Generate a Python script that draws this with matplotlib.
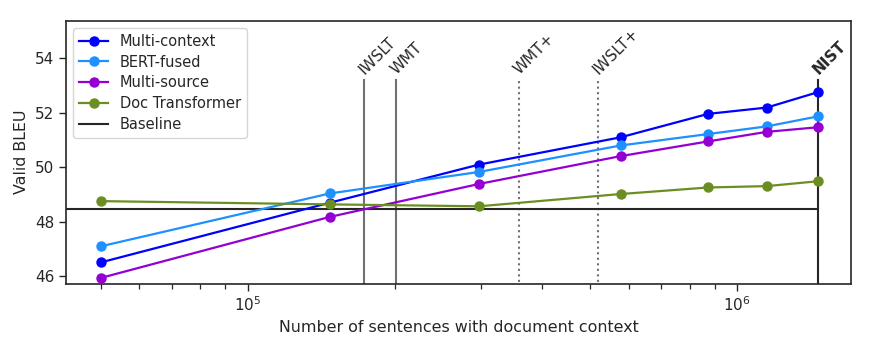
import matplotlib
matplotlib.use("Agg")
import matplotlib.pyplot as plt

# number of sentences with document context
sizes = [50000, 147000, 297000, 578000, 873000, 1150000, 1466000]

multi_context = [46.51, 48.70, 50.10, 51.10, 51.96, 52.19, 52.76]
bert_fused = [47.10, 49.04, 49.83, 50.80, 51.22, 51.50, 51.87]
multi_source = [45.94, 48.18, 49.39, 50.41, 50.95, 51.30, 51.47]
doc_transformer = [48.76, 48.64, 48.57, 49.02, 49.26, 49.31, 49.49]
baseline = 48.47

# dataset sizes marked with vertical lines
corpus_names = ["IWSLT", "WMT", "WMT+", "IWSLT+", "NIST"]
corpus_sizes = [173000, 201000, 359000, 519000, 1466000]
corpus_styles = ["-", "-", ":", ":", "-"]
corpus_colors = ["#707070", "#707070", "#707070", "#707070", "#262626"]

plt.rcParams["font.family"] = "DejaVu Sans"
plt.rcParams["text.color"] = "#262626"
plt.rcParams["axes.labelcolor"] = "#262626"
plt.rcParams["xtick.color"] = "#262626"
plt.rcParams["ytick.color"] = "#262626"

fig = plt.figure(figsize=(8.72, 3.49), dpi=100)
ax = fig.add_axes([0.0757, 0.187, 0.9003, 0.754])

series = [
    ("Multi-context", multi_context, "#0000ff"),
    ("BERT-fused", bert_fused, "#1e90ff"),
    ("Multi-source", multi_source, "#9400d3"),
    ("Doc Transformer", doc_transformer, "#6b8e23"),
]
for name, vals, col in series:
    ax.plot(sizes, vals, "-o", color=col, lw=1.6, ms=6.5, label=name, zorder=3)

xmin, xmax = 42500, 1710000
ax.plot([xmin, corpus_sizes[-1]], [baseline, baseline], color="#262626",
        lw=1.5, label="Baseline", zorder=2)

line_top = 53.2
for name, x, ls, col in zip(corpus_names, corpus_sizes, corpus_styles, corpus_colors):
    ax.plot([x, x], [45.0, line_top], ls=ls, color=col, lw=1.5, zorder=1)
    weight = "bold" if name == "NIST" else "normal"
    ax.text(x * 1.012, line_top + 0.12, name, rotation=45, rotation_mode="anchor",
            ha="left", va="bottom", fontsize=11, fontweight=weight, color="#262626")

ax.set_xscale("log")
ax.set_xlim(xmin, xmax)
ax.set_ylim(45.73, 55.38)
ax.set_yticks([46, 48, 50, 52, 54])
ax.set_xlabel("Number of sentences with document context", fontsize=11.4)
ax.set_ylabel("Valid BLEU", fontsize=11.4)
ax.tick_params(axis="both", which="major", labelsize=11, length=5, width=1.0)
ax.tick_params(axis="x", which="minor", length=3.5, width=0.9)
for s in ax.spines.values():
    s.set_color("#262626")
    s.set_linewidth(1.2)

leg = ax.legend(loc="upper left", fontsize=10.5, frameon=True, fancybox=True,
                borderpad=0.4, handlelength=2.0, labelspacing=0.4)
leg.get_frame().set_edgecolor("#cccccc")

fig.savefig("out.png", dpi=100)
